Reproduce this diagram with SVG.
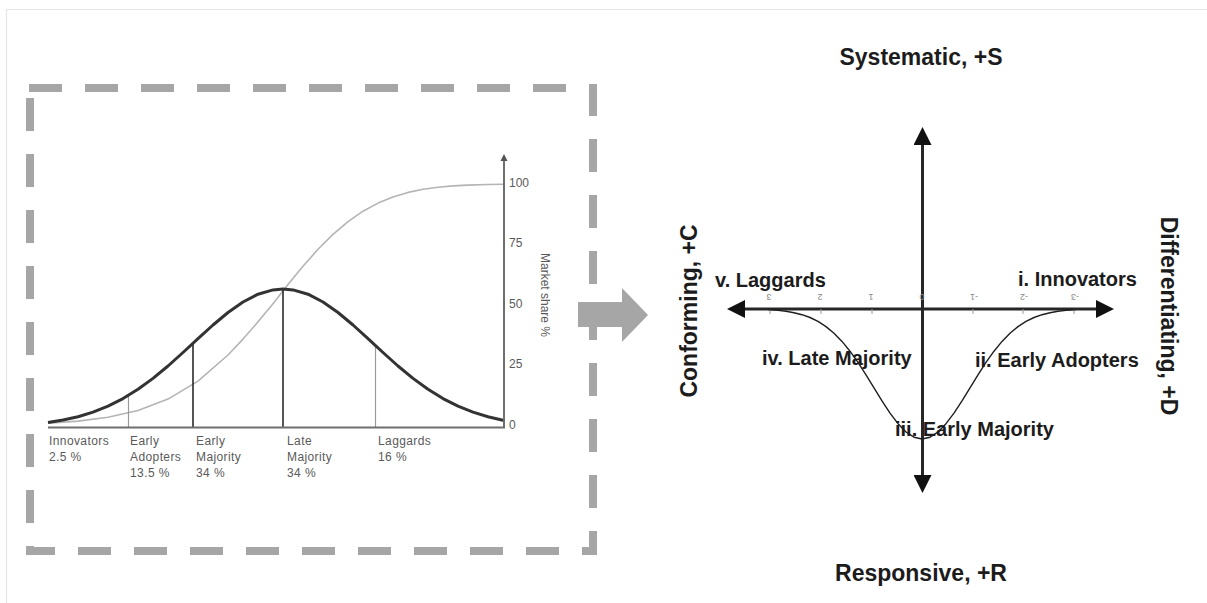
<svg xmlns="http://www.w3.org/2000/svg" width="1207" height="603" viewBox="0 0 1207 603">
  <defs>
    <style>
      .frame { fill: none; stroke: #e6e6e6; stroke-width: 1.2; }
      .dash { fill: none; stroke: #a6a6a6; stroke-width: 8; stroke-dasharray: 33 23; }
      .small { font-family: "Liberation Sans", Arial, sans-serif; font-size: 12px; fill: #5a5a5a; letter-spacing: 0.4px; }
      .tick { font-family: "Liberation Sans", Arial, sans-serif; font-size: 12px; fill: #5a5a5a; }
      .bold { font-family: "Liberation Sans", Arial, Helvetica, sans-serif; font-size: 20px; font-weight: bold; fill: #1c1c1c; }
      .pole { font-family: "Liberation Sans", Arial, Helvetica, sans-serif; font-size: 23px; font-weight: bold; fill: #1c1c1c; }
      .axisnum { font-family: "Liberation Sans", Arial, sans-serif; font-size: 9px; fill: #8a8a8a; }
      .axis { fill: none; stroke: #262626; stroke-width: 3; }
      .bell { fill: none; stroke: #333333; stroke-width: 3; stroke-linejoin: round; }
      .cum { fill: none; stroke: #b4b4b4; stroke-width: 1.6; stroke-linejoin: round; }
      .thin { fill: none; stroke: #1e1e1e; stroke-width: 1.4; stroke-linejoin: round; }
    </style>
    <marker id="bigHead" viewBox="0 0 18 18" markerWidth="18" markerHeight="18" refX="5" refY="9" orient="auto-start-reverse" markerUnits="userSpaceOnUse">
      <path d="M0,0 L18,9 L0,18 Z" fill="#111111"/>
    </marker>
    <marker id="smallHead" viewBox="0 0 8 8" markerWidth="8" markerHeight="8" refX="2" refY="4" orient="auto" markerUnits="userSpaceOnUse">
      <path d="M0,0.5 L7,4 L0,7.5 Z" fill="#555555"/>
    </marker>
  </defs>

  <rect width="1207" height="603" fill="#ffffff"/>
  <!-- outer page edge -->
  <path class="frame" d="M6.5,603 V9.5 H1207"/>

  <!-- dashed frame around the adoption chart -->
  <g id="dashed-frame">
    <line class="dash" x1="26" y1="88" x2="597" y2="88" stroke-dashoffset="53"/>
    <line class="dash" x1="593" y1="84" x2="593" y2="555" stroke-dashoffset="1"/>
    <line class="dash" x1="26" y1="551" x2="597" y2="551" stroke-dashoffset="4"/>
    <line class="dash" x1="30" y1="84" x2="30" y2="555" stroke-dashoffset="42"/>
  </g>

  <!-- diffusion of innovations chart -->
  <g id="adoption-chart">
    <!-- cumulative market share -->
    <polyline class="cum" points="48,423.3 78,421.1 108,417.2 138,410.5 168,399.1 198,381.1 228,355 243,339.1 258,321.8 272,305 288,284.5 303,266.3 318,249.3 333,234.4 348,221.6 363,211.2 378,203.1 393,197.1 408,192.4 423,189.3 438,187.2 453,185.9 468,185.1 488,184.5 504,184.2"/>
    <!-- segment dividers -->
    <line x1="128.5" y1="427" x2="128.5" y2="396" stroke="#9a9a9a" stroke-width="1.2"/>
    <line x1="193" y1="427" x2="193" y2="343" stroke="#2a2a2a" stroke-width="1.6"/>
    <line x1="283" y1="427" x2="283" y2="289" stroke="#2a2a2a" stroke-width="1.6"/>
    <line x1="375.5" y1="427" x2="375.5" y2="345" stroke="#9a9a9a" stroke-width="1.2"/>
    <!-- adoption bell curve -->
    <polyline class="bell" points="48,422.4 63,420 78,416.7 93,412.1 108,406.1 123,398.6 138,389.3 153,378.4 168,366 183,352.5 198,338.6 213,325 228,312.5 243,302 258,294.2 273,289.9 283,289 293,289.9 308,294.2 323,302 338,312.5 353,325 368,338.6 383,352.5 398,366 413,378.4 428,389.3 443,398.6 458,406.1 473,412.1 488,416.7 504,420.5"/>
    <!-- axes -->
    <line x1="48" y1="427.5" x2="505" y2="427.5" stroke="#6e6e6e" stroke-width="2"/>
    <line x1="504" y1="428" x2="504" y2="159" stroke="#6e6e6e" stroke-width="2" marker-end="url(#smallHead)"/>
    <text class="tick" x="509" y="187">100</text>
    <text class="tick" x="509" y="247">75</text>
    <text class="tick" x="509" y="308">50</text>
    <text class="tick" x="509" y="368">25</text>
    <text class="tick" x="509" y="429">0</text>
    <text class="tick" transform="translate(541,295) rotate(90)" text-anchor="middle">Market share %</text>
    <!-- segment labels -->
    <text class="small" x="49" y="445">Innovators<tspan x="49" y="461">2.5 %</tspan></text>
    <text class="small" x="130" y="445">Early<tspan x="130" y="461">Adopters</tspan><tspan x="130" y="477">13.5 %</tspan></text>
    <text class="small" x="196" y="445">Early<tspan x="196" y="461">Majority</tspan><tspan x="196" y="477">34 %</tspan></text>
    <text class="small" x="287" y="445">Late<tspan x="287" y="461">Majority</tspan><tspan x="287" y="477">34 %</tspan></text>
    <text class="small" x="378" y="445">Laggards<tspan x="378" y="461">16 %</tspan></text>
  </g>

  <!-- block arrow between the two charts -->
  <g id="transition-arrow">
    <polygon points="578,302 622,302 622,288 648,315 622,342 622,327 578,327" fill="#a6a6a6"/>
  </g>

  <!-- orientation map -->
  <g id="orientation-map">
    <g id="axes">
      <line class="axis" x1="922.5" y1="140" x2="922.5" y2="480" marker-start="url(#bigHead)" marker-end="url(#bigHead)"/>
      <line class="axis" x1="740" y1="309" x2="1101" y2="309" marker-start="url(#bigHead)" marker-end="url(#bigHead)"/>
      <g stroke="#9a9a9a" stroke-width="1">
        <line x1="770" y1="309" x2="770" y2="314"/>
        <line x1="821" y1="309" x2="821" y2="314"/>
        <line x1="872" y1="309" x2="872" y2="314"/>
        <line x1="973" y1="309" x2="973" y2="314"/>
        <line x1="1023" y1="309" x2="1023" y2="314"/>
        <line x1="1074" y1="309" x2="1074" y2="314"/>
      </g>
      <g class="axisnum" text-anchor="middle">
        <text transform="translate(769,294) rotate(180)">3</text>
        <text transform="translate(820,294) rotate(180)">2</text>
        <text transform="translate(871,294) rotate(180)">1</text>
        <text transform="translate(922,294) rotate(180)">0</text>
        <text transform="translate(974,294) rotate(180)">-1</text>
        <text transform="translate(1024,294) rotate(180)">-2</text>
        <text transform="translate(1075,294) rotate(180)">-3</text>
      </g>
    </g>
    <polyline id="adoption-profile" class="thin" points="768,309.6 778,310.4 786,311.3 794,312.7 802,314.7 810,317.5 818,321.4 826,326.6 834,333.2 842,341.4 850,351.2 858,362.4 866,374.8 874,387.8 882,400.9 890,413.1 898,423.7 906,432 914,437.2 922,439 930,437.2 938,432 946,423.7 954,413.1 962,400.9 970,387.8 978,374.8 986,362.4 994,351.2 1002,341.4 1010,333.2 1018,326.6 1026,321.4 1034,317.5 1042,314.7 1050,312.7 1058,311.3 1066,310.4 1076,309.6"/>

    <g id="pole-systematic"><text class="pole" x="921" y="65" text-anchor="middle">Systematic, +S</text></g>
    <g id="pole-responsive"><text class="pole" x="921" y="581" text-anchor="middle">Responsive, +R</text></g>
    <g id="pole-conforming"><text class="pole" transform="translate(697,311) rotate(-90)" text-anchor="middle">Conforming, +C</text></g>
    <g id="pole-differentiating"><text class="pole" transform="translate(1161,316) rotate(90)" text-anchor="middle">Differentiating, +D</text></g>

    <g id="stage-innovators"><text class="bold" x="1018" y="286">i. Innovators</text></g>
    <g id="stage-early-adopters"><text class="bold" x="975" y="367">ii. Early Adopters</text></g>
    <g id="stage-early-majority"><text class="bold" x="895" y="436">iii. Early Majority</text></g>
    <g id="stage-late-majority"><text class="bold" x="762" y="365">iv. Late Majority</text></g>
    <g id="stage-laggards"><text class="bold" x="715" y="287">v. Laggards</text></g>
  </g>
</svg>
